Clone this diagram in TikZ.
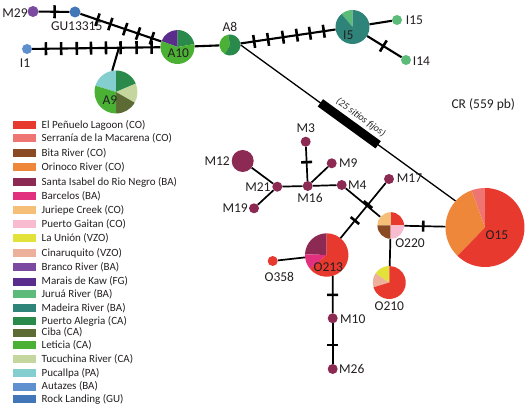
\documentclass[tikz,border=0pt]{standalone}
\usepackage{fontspec}
\setmainfont{Carlito}
\usetikzlibrary{decorations.markings,calc}
\definecolor{cPen}{HTML}{E8392F}
\definecolor{cSerr}{HTML}{EF7572}
\definecolor{cBita}{HTML}{8A4A24}
\definecolor{cOri}{HTML}{EF873A}
\definecolor{cSI}{HTML}{8C2A54}
\definecolor{cBarc}{HTML}{E3307E}
\definecolor{cJuri}{HTML}{F6BF78}
\definecolor{cGait}{HTML}{F8BBD0}
\definecolor{cUni}{HTML}{E2E23A}
\definecolor{cCina}{HTML}{EDB09A}
\definecolor{cBranco}{HTML}{7B4AA0}
\definecolor{cMarais}{HTML}{5A2D8C}
\definecolor{cJurua}{HTML}{5CBB79}
\definecolor{cMad}{HTML}{2F8479}
\definecolor{cPA}{HTML}{2A8A4B}
\definecolor{cCiba}{HTML}{5C6A33}
\definecolor{cLet}{HTML}{4BB135}
\definecolor{cTuc}{HTML}{C6D69F}
\definecolor{cPuc}{HTML}{84CECF}
\definecolor{cAut}{HTML}{5E8FCF}
\definecolor{cRock}{HTML}{4177B9}
\definecolor{txt}{HTML}{231F20}
\newcommand\pieslice[5]{\fill[#5] (#1.center) -- ++(#3:#2) arc[start angle=#3, end angle=#4, radius=#2] -- cycle;}
\tikzset{
  hap/.style={circle, inner sep=0pt, minimum size=#1, draw=none},
  mnode/.style={hap=10, fill=cSI},
  lbl/.style={font=\fontsize{13.5}{15}\selectfont, text=txt, inner sep=0pt},
  edge/.style={line width=2.1pt, draw=black},
  ledge/.style={line width=1.7pt, draw=black},
  thinedge/.style={line width=1.3pt, draw=black},
  tka/.style={postaction={decorate, decoration={markings, mark=at position #1 with {\draw[line width=2.6pt] (0,-6.5) -- (0,6.5);}}}},
  tkb/.style={postaction={decorate, decoration={markings, mark=at position #1 with {\draw[line width=2.6pt] (0,-5.5) -- (0,5.5);}}}},
  swatch/.style={rectangle, inner sep=0pt, minimum width=23pt, minimum height=8pt, draw=none},
  legtext/.style={font=\fontsize{11}{12}\selectfont, text=txt, inner sep=0pt, anchor=west},
}
\begin{document}
\begin{tikzpicture}[x=1pt,y=1pt]
\useasboundingbox (0,0) rectangle (528,409);
% ---- nodes ----
\node[hap=11, fill=cBranco] (M29) at (33,397.5) {};
\node[hap=11, fill=cRock] (GU) at (75,397) {};
\node[hap=10, fill=cAut] (I1) at (27,360) {};
\node[hap=34] (A10) at (177.5,362) {};
\node[hap=43] (A9) at (116,317) {};
\node[hap=21] (A8) at (230,364) {};
\node[hap=34] (I5) at (352.5,382) {};
\node[hap=10, fill=cJurua] (I15) at (397,389) {};
\node[hap=10, fill=cJurua] (I14) at (406,349) {};
\node[hap=79] (O15) at (485,181.5) {};
\node[hap=27] (O220) at (390.7,183.5) {};
\node[hap=33] (O210) at (389.3,126.5) {};
\node[hap=43] (O213) at (326.7,154) {};
\node[hap=10, fill=cPen] (O358) at (272.7,148) {};
\node[mnode] (M10) at (332.7,90.7) {};
\node[mnode] (M26) at (332.7,40) {};
\node[mnode] (M17) at (389,230) {};
\node[mnode] (M3) at (305.7,267.3) {};
\node[mnode] (M9) at (331.7,245.7) {};
\node[hap=22, fill=cSI] (M12) at (242.7,248) {};
\node[mnode] (M21) at (277.3,222.3) {};
\node[mnode] (M16) at (307.7,223) {};
\node[mnode] (M4) at (341.7,224) {};
\node[mnode] (M19) at (254,200.7) {};
% ---- pies ----
\pieslice{A10}{17}{90}{160}{cMarais}
\pieslice{A10}{17}{10}{90}{cPA}
\pieslice{A10}{17}{160}{370}{cLet}
\pieslice{A9}{21.5}{90}{163}{cPuc}
\pieslice{A9}{21.5}{23}{90}{cPA}
\pieslice{A9}{21.5}{-30}{23}{cTuc}
\pieslice{A9}{21.5}{-90}{-30}{cCiba}
\pieslice{A9}{21.5}{163}{270}{cLet}
\pieslice{A8}{10.5}{100}{240}{cLet}
\pieslice{A8}{10.5}{240}{460}{cPA}
\pieslice{I5}{17}{90}{130}{cJurua}
\pieslice{I5}{17}{130}{450}{cMad}
\pieslice{O15}{39.5}{90}{110}{cSerr}
\pieslice{O15}{39.5}{110}{226}{cOri}
\pieslice{O15}{39.5}{226}{450}{cPen}
\pieslice{O220}{13.3}{0}{90}{cPen}
\pieslice{O220}{13.3}{90}{180}{cJuri}
\pieslice{O220}{13.3}{180}{270}{cBita}
\pieslice{O220}{13.3}{270}{360}{cGait}
\pieslice{O210}{16.5}{90}{147}{cUni}
\pieslice{O210}{16.5}{147}{197}{cCina}
\pieslice{O210}{16.5}{197}{450}{cPen}
\pieslice{O213}{21.7}{90}{178}{cSI}
\pieslice{O213}{21.7}{178}{220}{cBarc}
\pieslice{O213}{21.7}{220}{450}{cPen}
% ---- edges ----
\draw[edge, tka=0.52] (M29) -- (GU);
\draw[edge, tka/.list={0.212,0.371,0.555,0.714,0.885}] (GU) -- (A10);
\draw[edge, tka/.list={0.107,0.226,0.348,0.459,0.576,0.690,0.815,0.932}] (I1) -- (A10);
\coordinate (j) at ($(I1)!0.611!(A10)$);
\draw[edge] (j) -- (A9.100);
\draw[edge] (A10) -- (A8);
\draw[edge, tka/.list={0.143,0.290,0.447,0.594,0.731,0.877}] (A8) -- (I5);
\draw[edge] (I5) -- (I15);
\draw[edge, tka=0.47] (I5) -- (I14);
\draw[thinedge] (A8.east) -- (O15.138);
\coordinate (b1) at ($(A8.east)!0.371!(O15.138)$);
\coordinate (b2) at ($(A8.east)!0.640!(O15.138)$);
\draw[line width=9pt] (b1) -- (b2);
\path (b1) -- (b2) node[pos=0.58, sloped, above=7pt, inner sep=0pt, font=\itshape\fontsize{10}{11}\selectfont, text=txt] (lbar) {(25 sitios fijos)};
\draw[ledge, tkb=0.46] (O220) -- (O15);
\draw[ledge] (O220) -- (O210);
\draw[ledge] (O358) -- (O213);
\draw[ledge, tkb=0.51] (O213.-74) -- (M10);
\draw[ledge, tkb=0.53] (M10) -- (M26);
\draw[ledge, tkb/.list={0.32,0.61}] (O213) -- (M17);
\draw[ledge] (M4) -- (O220);
\draw[ledge] (M12) -- (M21);
\draw[ledge] (M19) -- (M21);
\draw[ledge] (M21) -- (M16);
\draw[ledge] (M16) -- (M4);
\draw[ledge] (M9) -- (M16);
\draw[ledge, tkb=0.45] (M3) -- (M16);
% ---- labels ----
\node[lbl] (lM29) at (15,396.3) {M29};
\node[lbl] (lGU) at (76.7,383) {GU13315};
\node[lbl] (lI1) at (25,346.3) {I1};
\node[lbl] (lA10) at (178.3,356.3) {A10};
\node[lbl] (lA9) at (110,309) {A9};
\node[lbl] (lA8) at (230,382.3) {A8};
\node[lbl] (lI5) at (348.3,374) {I5};
\node[lbl, anchor=west] (lI15) at (405.7,389) {I15};
\node[lbl, anchor=west] (lI14) at (412.7,348.3) {I14};
\node[lbl] (lCR) at (483.3,304) {CR (559 pb)};
\node[lbl] (lM3) at (305.7,280.7) {M3};
\node[lbl, anchor=west] (lM9) at (339,246) {M9};
\node[lbl, anchor=east] (lM12) at (230,248) {M12};
\node[lbl, anchor=east] (lM21) at (270.7,222) {M21};
\node[lbl] (lM16) at (310,210.7) {M16};
\node[lbl, anchor=west] (lM4) at (348,224) {M4};
\node[lbl, anchor=east] (lM19) at (248,200.7) {M19};
\node[lbl, anchor=west] (lM17) at (396.7,231) {M17};
\node[lbl] (lO220) at (410,165.7) {O220};
\node[lbl] (lO15) at (497,174) {O15};
\node[lbl] (lO213) at (328.3,141.7) {O213};
\node[lbl] (lO358) at (279.3,132.3) {O358};
\node[lbl] (lO210) at (389.3,103) {O210};
\node[lbl, anchor=west] (lM10) at (340,89.7) {M10};
\node[lbl, anchor=west] (lM26) at (339,40) {M26};
% ---- legend ----
\foreach \yy/\cc/\lab [count=\i] in {
  284/cPen/El Peñuelo Lagoon (CO),
  271/cSerr/Serranía de la Macarena (CO),
  256/cBita/Bita River (CO),
  242/cOri/Orinoco River (CO),
  227/cSI/Santa Isabel do Rio Negro (BA),
  213/cBarc/Barcelos (BA),
  199/cJuri/Juriepe Creek (CO),
  185/cGait/Puerto Gaitan (CO),
  171/cUni/La Unión (VZO),
  155.5/cCina/Cinaruquito (VZO),
  141.7/cBranco/Branco River (BA),
  127.3/cMarais/Marais de Kaw (FG),
  114.7/cJurua/Juruá River (BA),
  100.7/cMad/Madeira River (BA),
  88/cPA/Puerto Alegria (CA),
  76.3/cCiba/Ciba (CA),
  64/cLet/Leticia (CA),
  49.7/cTuc/Tucuchina River (CA),
  35.7/cPuc/Pucallpa (PA),
  22.3/cAut/Autazes (BA),
  9.7/cRock/Rock Landing (GU)}{
  \node[swatch, fill=\cc] (sw\i) at (24.6,\yy) {};
  \node[legtext] (lg\i) at (41.5,\yy) {\lab};
}
\end{tikzpicture}
\end{document}
